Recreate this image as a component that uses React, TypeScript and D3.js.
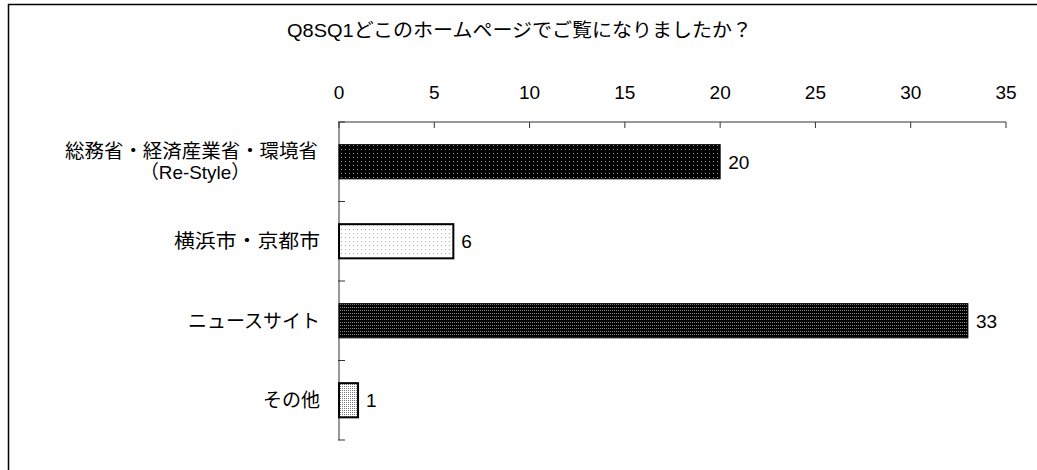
import React from "react";
import * as d3 from "d3";

const title = "Q8SQ1どこのホームページでご覧になりましたか？";
const categories = ["総務省・経済産業省・環境省\n（Re-Style）", "横浜市・京都市", "ニュースサイト", "その他"];
const values = [20, 6, 33, 1];
const xTicks = [0, 5, 10, 15, 20, 25, 30, 35];
const patterns = ["p0", "p1", "p2", "p3"];
// approximate rendered widths of the category label lines in the reference (0 = natural)
const labelWidths = [[253, 110], [146], [0], [0]];

const W = 1037;
const H = 470;
const FONT = "'Liberation Sans', 'Noto Sans CJK JP', sans-serif";
const FS = 19;

export default function App() {
  const x = d3.scaleLinear().domain([0, 35]).range([339, 1006]);
  const y = d3.scaleBand().domain(categories).range([122, 440]).paddingInner(0.57).paddingOuter(0.285);
  const bandStep = y.step();
  const axisTop = 122;

  const lenProps = (w: number) => (w > 0 ? { textLength: w, lengthAdjust: "spacingAndGlyphs" as const } : {});

  return (
    <svg width={W} height={H} style={{ position: "absolute", left: 0, top: 0, background: "#fff" }}>
      <defs>
        <pattern id="p0" width={4} height={4} patternUnits="userSpaceOnUse">
          <rect width={4} height={4} fill="#000" />
          <rect x={1} y={1} width={1} height={1} fill="#9a9a9a" />
        </pattern>
        <pattern id="p1" width={4} height={4} patternUnits="userSpaceOnUse">
          <rect width={4} height={4} fill="#fff" />
          <rect x={1} y={1} width={1} height={1} fill="#aaa" />
        </pattern>
        <pattern id="p2" width={2} height={3} patternUnits="userSpaceOnUse">
          <rect width={2} height={3} fill="#000" />
          <rect x={0} y={1} width={1} height={1} fill="#8a8a8a" />
        </pattern>
        <pattern id="p3" width={2} height={2} patternUnits="userSpaceOnUse">
          <rect width={2} height={2} fill="#fff" />
          <rect x={0} y={0} width={1} height={1} fill="#777" />
        </pattern>
      </defs>
      <rect x={8.5} y={4.5} width={1100} height={600} fill="none" stroke="#000" strokeWidth={1.5} />
      <text x={519.5} y={37} textAnchor="middle" fontFamily={FONT} fontSize={FS} fill="#000" textLength={465} lengthAdjust="spacingAndGlyphs">{title}</text>

      {/* x axis */}
      <line x1={x(0)} x2={x(35)} y1={axisTop} y2={axisTop} stroke="#333" strokeWidth={1} />
      {xTicks.map((t) => (
        <g key={t}>
          <line x1={x(t)} x2={x(t)} y1={axisTop} y2={axisTop + 6} stroke="#333" />
          <text x={x(t)} y={99} textAnchor="middle" fontFamily={FONT} fontSize={FS} fill="#000">{t}</text>
        </g>
      ))}

      {/* y axis */}
      <line x1={x(0)} x2={x(0)} y1={axisTop} y2={440} stroke="#333" />
      {d3.range(categories.length + 1).map((i) => (
        <line key={i} x1={x(0) - 1} x2={x(0) + 6} y1={axisTop + i * bandStep} y2={axisTop + i * bandStep} stroke="#333" />
      ))}

      {categories.map((c, i) => {
        const by = y(c)!;
        const bh = y.bandwidth();
        const cy = by + bh / 2;
        const lines = c.split("\n");
        return (
          <g key={c}>
            <rect x={x(0)} y={by} width={x(values[i]) - x(0)} height={bh} fill={`url(#${patterns[i]})`} stroke="#000" strokeWidth={i === 0 || i === 2 ? 1 : 2} />
            <text x={x(values[i]) + 8} y={cy + 7} fontFamily={FONT} fontSize={FS} fill="#000">{values[i]}</text>
            {lines.length === 1 ? (
              <text x={320} y={cy + 7} textAnchor="end" fontFamily={FONT} fontSize={FS} fill="#000" {...lenProps(labelWidths[i][0])}>{lines[0]}</text>
            ) : (
              <g>
                <text x={191.5} y={cy - 4} textAnchor="middle" fontFamily={FONT} fontSize={FS} fill="#000" {...lenProps(labelWidths[i][0])}>{lines[0]}</text>
                <text x={195} y={cy + 17} textAnchor="middle" fontFamily={FONT} fontSize={FS} fill="#000" {...lenProps(labelWidths[i][1])}>{lines[1]}</text>
              </g>
            )}
          </g>
        );
      })}
    </svg>
  );
}
